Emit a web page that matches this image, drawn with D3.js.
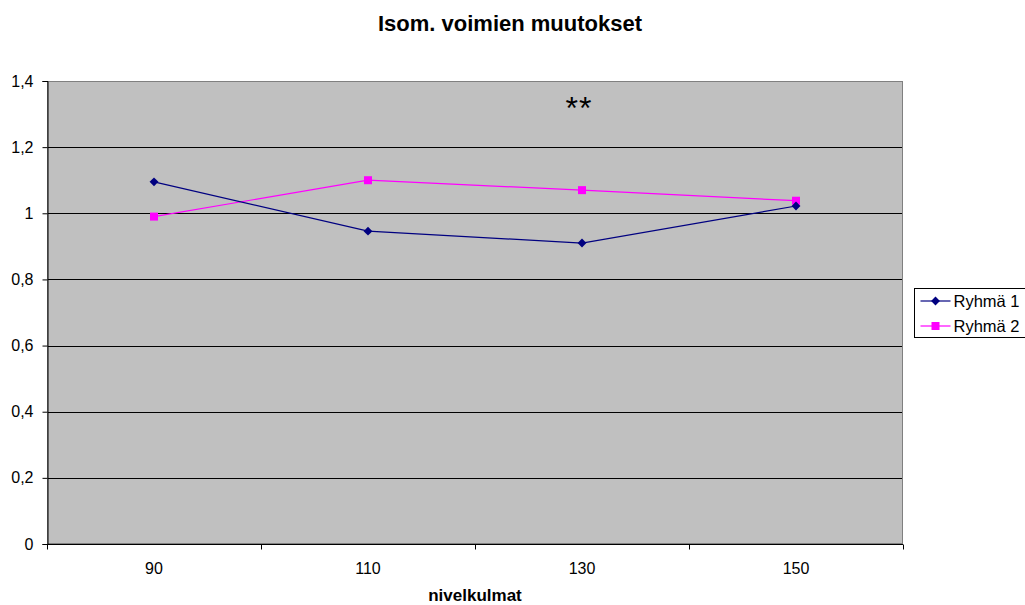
<!DOCTYPE html>
<html>
<head>
<meta charset="utf-8">
<script src="https://cdn.jsdelivr.net/npm/d3@7"></script>
<style>
  body { margin: 0; background: #fff; }
  text { font-family: "Liberation Sans", Arial, sans-serif; }
</style>
</head>
<body>
<div id="chart"></div>
<script>
const categories = ["90", "110", "130", "150"];
const ryhma1 = [1.095, 0.946, 0.910, 1.022];
const ryhma2 = [0.990, 1.100, 1.070, 1.038];
const yTicks = [0, 0.2, 0.4, 0.6, 0.8, 1, 1.2, 1.4];
const seriesNames = ["Ryhmä 1", "Ryhmä 2"];

const width = 1025, height = 605;
const margin = { top: 81, right: 122, bottom: 61, left: 47 };
const plotW = width - margin.left - margin.right;
const plotH = height - margin.top - margin.bottom;

const svg = d3.select("#chart").append("svg")
  .attr("width", width).attr("height", height);

const g = svg.append("g")
  .attr("transform", "translate(" + margin.left + "," + margin.top + ")");

const x = d3.scaleBand().domain(categories).range([0, plotW]);
const y = d3.scaleLinear().domain([0, 1.4]).range([plotH, 0]);
const fmt = d => d3.format("")(d).replace(".", ",");

// plot background
g.append("rect")
  .attr("width", plotW).attr("height", plotH)
  .attr("fill", "#c0c0c0");

// gridlines
g.selectAll(".grid").data(yTicks.filter(d => d > 0 && d < 1.4)).enter()
  .append("line")
  .attr("x1", 0).attr("x2", plotW)
  .attr("y1", d => Math.round(y(d)) + 0.5).attr("y2", d => Math.round(y(d)) + 0.5)
  .attr("stroke", "#000").attr("stroke-width", 1);

g.append("rect")
  .attr("x", 0.5).attr("y", 0.5)
  .attr("width", plotW - 1).attr("height", plotH - 1)
  .attr("fill", "none").attr("stroke", "#808080");

// y axis
const yAxis = g.append("g")
  .attr("transform", "translate(0.5,0)")
  .call(d3.axisLeft(y).tickValues(yTicks).tickFormat(fmt).tickSize(5).tickPadding(9));
yAxis.select(".domain").attr("stroke", "#000");
yAxis.selectAll("line").attr("stroke", "#000");
yAxis.selectAll("text").attr("font-size", 16).attr("fill", "#000")
  .attr("font-family", "Liberation Sans, Arial, sans-serif");

// x axis: ticks at category boundaries
const xAxis = g.append("g").attr("transform", "translate(0," + (plotH + 0.5) + ")");
xAxis.append("line").attr("x1", 0).attr("x2", plotW).attr("stroke", "#000");
const bounds = [0].concat(categories.map(c => x(c) + x.bandwidth()));
xAxis.selectAll(".tk").data(bounds).enter().append("line")
  .attr("x1", d => Math.round(d) + 0.5).attr("x2", d => Math.round(d) + 0.5)
  .attr("y1", 0).attr("y2", 5).attr("stroke", "#000");
xAxis.selectAll(".lbl").data(categories).enter().append("text")
  .attr("x", d => x(d) + x.bandwidth() / 2)
  .attr("y", 29)
  .attr("text-anchor", "middle")
  .attr("font-size", 16)
  .text(d => d);

// lines
const line = d3.line()
  .x((d, i) => x(categories[i]) + x.bandwidth() / 2)
  .y(d => y(d));

g.append("path").datum(ryhma2)
  .attr("fill", "none").attr("stroke", "#ff00ff").attr("stroke-width", 1.2)
  .attr("d", line);
g.append("path").datum(ryhma1)
  .attr("fill", "none").attr("stroke", "#000080").attr("stroke-width", 1.2)
  .attr("d", line);

g.selectAll(".sq").data(ryhma2).enter().append("rect")
  .attr("x", (d, i) => x(categories[i]) + x.bandwidth() / 2 - 4)
  .attr("y", d => y(d) - 4)
  .attr("width", 8).attr("height", 8)
  .attr("fill", "#ff00ff");

const diamond = d3.symbol().type(d3.symbolDiamond2).size(50);
g.selectAll(".dm").data(ryhma1).enter().append("path")
  .attr("transform", (d, i) => "translate(" + (x(categories[i]) + x.bandwidth() / 2) + "," + y(d) + ")")
  .attr("d", diamond)
  .attr("fill", "#000080");

// annotation
g.append("text")
  .attr("x", x("130") + x.bandwidth() / 2 - 3)
  .attr("y", 38)
  .attr("text-anchor", "middle")
  .attr("font-family", "Liberation Serif, Times New Roman, serif")
  .attr("font-size", 32)
  .attr("letter-spacing", 1)
  .text("**");

// title
svg.append("text")
  .attr("x", 510).attr("y", 31)
  .attr("text-anchor", "middle")
  .attr("font-size", 22).attr("font-weight", "bold")
  .text("Isom. voimien muutokset");

// x axis title
svg.append("text")
  .attr("x", margin.left + plotW / 2).attr("y", 601)
  .attr("text-anchor", "middle")
  .attr("font-size", 17).attr("font-weight", "bold")
  .text("nivelkulmat");

// legend
const legend = svg.append("g").attr("transform", "translate(914.5,288.5)");
legend.append("rect")
  .attr("width", 120).attr("height", 49)
  .attr("fill", "#fff").attr("stroke", "#000");
const colors = ["#000080", "#ff00ff"];
seriesNames.forEach((name, i) => {
  const yy = 12.5 + i * 25;
  legend.append("line")
    .attr("x1", 6).attr("x2", 36).attr("y1", yy).attr("y2", yy)
    .attr("stroke", colors[i]).attr("stroke-width", 1.2);
  if (i === 0) {
    legend.append("path").attr("transform", "translate(21," + yy + ")")
      .attr("d", diamond).attr("fill", colors[i]);
  } else {
    legend.append("rect").attr("x", 17).attr("y", yy - 4)
      .attr("width", 8).attr("height", 8).attr("fill", colors[i]);
  }
  legend.append("text")
    .attr("x", 39).attr("y", yy + 6)
    .attr("font-size", 16.5)
    .text(name);
});
</script>
</body>
</html>
